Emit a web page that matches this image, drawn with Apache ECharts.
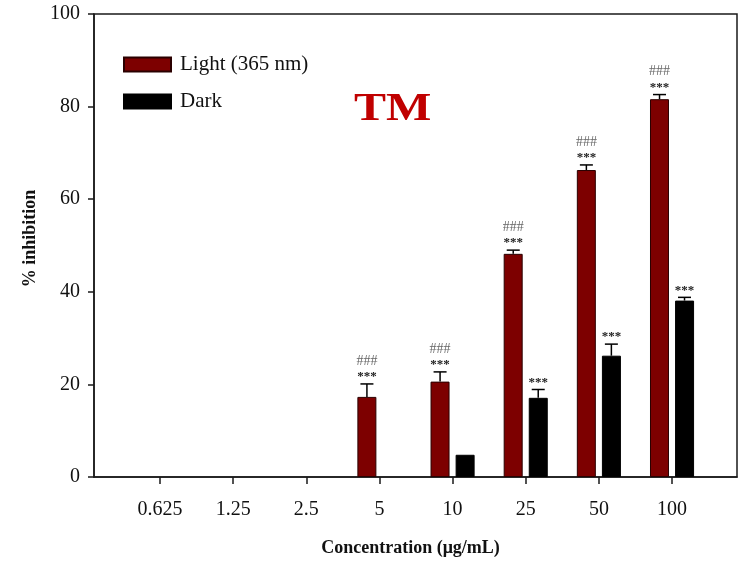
<!DOCTYPE html>
<html>
<head>
<meta charset="utf-8">
<script src="https://cdn.jsdelivr.net/npm/echarts@6/dist/echarts.min.js"></script>
<style>
  html, body { margin: 0; padding: 0; background: #fff; }
  #chart { width: 741px; height: 562px; }
</style>
</head>
<body>
<div id="chart"></div>
<script>
// Concentrations tested (µg/mL)
const categories = ['0.625', '1.25', '2.5', '5', '10', '25', '50', '100'];

// % inhibition, mean and standard error, under 365 nm light
const lightMean = [null, null, null, 17.3, 20.6, 48.2, 66.3, 81.6];
const lightErr  = [null, null, null, 2.8, 2.1, 0.8, 1.1, 1.0];
// % inhibition, mean and standard error, in the dark
const darkMean  = [null, null, null, null, 4.8, 17.1, 26.2, 38.1];
const darkErr   = [null, null, null, null, 0, 1.8, 2.5, 0.7];

// Significance marks above each bar
const lightStars = ['', '', '', '***', '***', '***', '***', '***'];
const lightHash  = ['', '', '', '###', '###', '###', '###', '###'];
const darkStars  = ['', '', '', '', '', '***', '***', '***'];

const yTicks = [0, 20, 40, 60, 80, 100];

const SERIF = '"Liberation Serif", "Times New Roman", serif';
const AXIS_COLOR = '#1a1a1a';
const BAR_W = 19;
const HALF_PITCH = 12.5;

// Error bar + annotation items: [categoryIndex, mean, se, side]
const errItems = [];
const errMarks = [];
categories.forEach((c, i) => {
  if (lightMean[i] != null) {
    errItems.push([i, lightMean[i], lightErr[i], -1]);
    errMarks.push({ stars: lightStars[i], hash: lightHash[i] });
  }
  if (darkMean[i] != null) {
    errItems.push([i, darkMean[i], darkErr[i], 1]);
    errMarks.push({ stars: darkStars[i], hash: '' });
  }
});

function renderErr(params, api) {
  const cat = api.value(0), mean = api.value(1), se = api.value(2), side = api.value(3);
  const base = api.coord([cat, mean]);
  const top = api.coord([cat, mean + se]);
  const x = base[0] + side * HALF_PITCH;
  const children = [];
  if (se > 0) {
    children.push({
      type: 'line',
      shape: { x1: x, y1: base[1], x2: x, y2: top[1] },
      style: { stroke: '#000', lineWidth: 1.5 }
    });
    children.push({
      type: 'line',
      shape: { x1: x - 6.5, y1: top[1], x2: x + 6.5, y2: top[1] },
      style: { stroke: '#000', lineWidth: 1.5 }
    });
  }
  const m = errMarks[params.dataIndex];
  if (m.stars) {
    children.push({
      type: 'text',
      style: {
        text: m.stars, x: x, y: top[1] - 7,
        align: 'center', verticalAlign: 'middle',
        font: 'bold 13px ' + SERIF, fill: '#222'
      }
    });
  }
  if (m.hash) {
    children.push({
      type: 'text',
      style: {
        text: m.hash, x: x, y: top[1] - 23,
        align: 'center', verticalAlign: 'middle',
        font: '14px ' + SERIF, fill: '#666'
      }
    });
  }
  return { type: 'group', children: children };
}

const chart = echarts.init(document.getElementById('chart'), null, { renderer: 'canvas' });

chart.setOption({
  backgroundColor: '#fff',
  animation: false,
  legend: {
    orient: 'vertical',
    left: 118,
    top: 49,
    itemWidth: 47,
    itemHeight: 14,
    itemGap: 16,
    icon: 'rect',
    data: ['Light (365 nm)', 'Dark'],
    textStyle: { fontFamily: SERIF, fontSize: 21, color: '#111', padding: [0, 0, 0, 4] }
  },
  graphic: [{
    type: 'text',
    left: 354,
    top: 90,
    scaleX: 1.2,
    style: { text: 'TM', font: 'bold 40px ' + SERIF, fill: '#c00000' }
  }],
  grid: [
    // bars
    { left: 123.4, right: 32.4, top: 14, bottom: 85 },
    // frame
    { left: 94, right: 4, top: 14, bottom: 85, show: true, borderColor: AXIS_COLOR, borderWidth: 1.5, backgroundColor: 'transparent' }
  ],
  xAxis: [
    {
      type: 'category',
      gridIndex: 0,
      data: categories,
      axisLine: { show: false },
      axisTick: { show: true, alignWithLabel: true, length: 7, lineStyle: { color: AXIS_COLOR, width: 1.5 } },
      axisLabel: { fontFamily: SERIF, fontSize: 20, color: '#111', margin: 23 },
      splitLine: { show: false }
    },
    {
      type: 'value',
      gridIndex: 1,
      min: 0, max: 1,
      axisLine: { show: true, lineStyle: { color: AXIS_COLOR, width: 1.5 } },
      axisTick: { show: false },
      axisLabel: { show: false },
      splitLine: { show: false },
      name: 'Concentration (μg/mL)',
      nameLocation: 'middle',
      nameGap: 62,
      nameTextStyle: { fontFamily: SERIF, fontSize: 18, fontWeight: 'bold', color: '#111', padding: [0, 10, 0, 0] }
    }
  ],
  yAxis: [
    { type: 'value', gridIndex: 0, min: 0, max: 100, show: false },
    {
      type: 'value',
      gridIndex: 1,
      min: yTicks[0], max: yTicks[yTicks.length - 1], interval: 20,
      axisLine: { show: true, lineStyle: { color: AXIS_COLOR, width: 1.5 } },
      axisTick: { show: true, length: 6, lineStyle: { color: AXIS_COLOR, width: 1.5 } },
      axisLabel: { fontFamily: SERIF, fontSize: 20, color: '#111', margin: 14 },
      splitLine: { show: false },
      name: '% inhibition',
      nameLocation: 'middle',
      nameGap: 55,
      nameTextStyle: { fontFamily: SERIF, fontSize: 18, fontWeight: 'bold', color: '#111', padding: [0, 0, 0, 14] }
    }
  ],
  series: [
    {
      name: 'Light (365 nm)',
      type: 'bar',
      xAxisIndex: 0, yAxisIndex: 0,
      data: lightMean.map(v => v == null ? '-' : v),
      barWidth: BAR_W,
      barGap: '32%',
      itemStyle: { color: '#7d0000', borderColor: '#2a0000', borderWidth: 1 }
    },
    {
      name: 'Dark',
      type: 'bar',
      xAxisIndex: 0, yAxisIndex: 0,
      data: darkMean.map(v => v == null ? '-' : v),
      barWidth: BAR_W,
      itemStyle: { color: '#000', borderColor: '#000', borderWidth: 1 }
    },
    {
      type: 'custom',
      xAxisIndex: 0, yAxisIndex: 0,
      data: errItems,
      renderItem: renderErr,
      z: 5,
      silent: true
    }
  ]
});
</script>
</body>
</html>
